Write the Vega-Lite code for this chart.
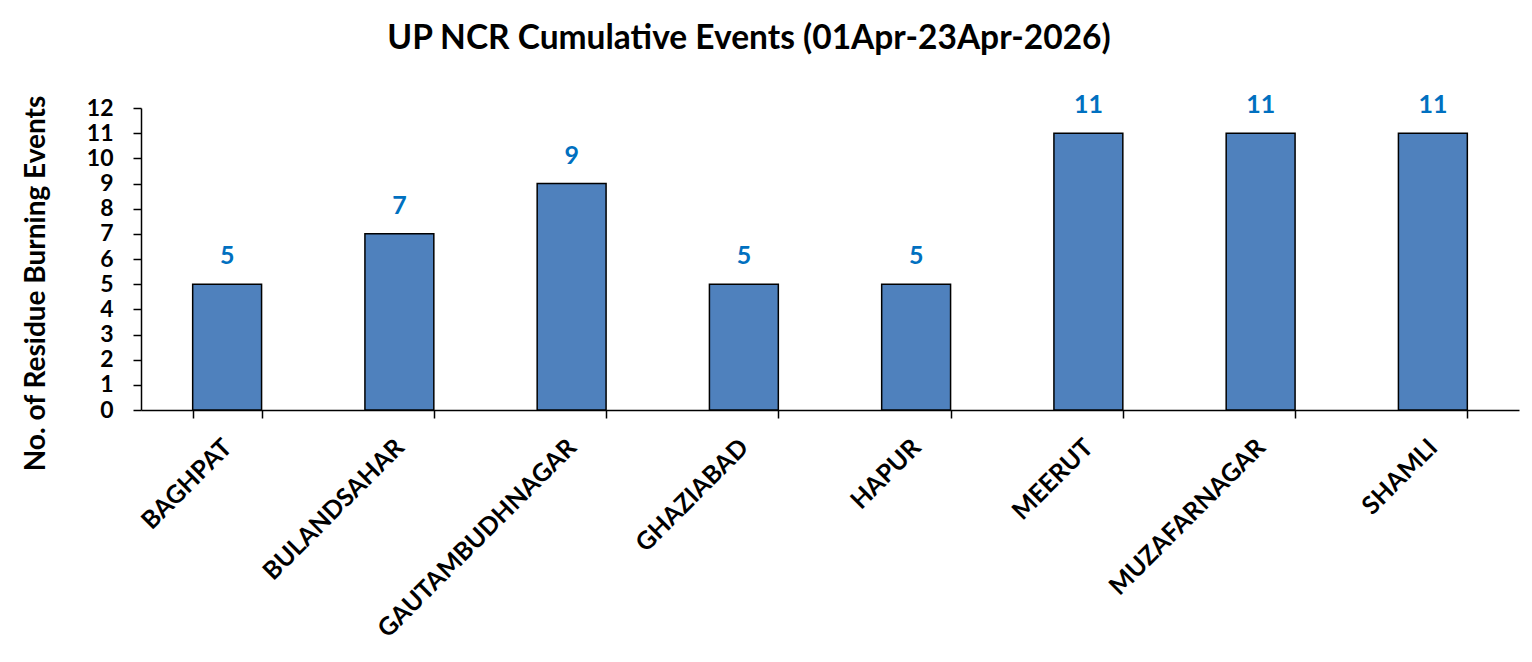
{
  "$schema": "https://vega.github.io/schema/vega-lite/v6.json",
  "width": 1378,
  "height": 302,
  "autosize": {"type": "none"},
  "padding": {"left": 141, "top": 108, "right": 13, "bottom": 252},
  "background": "white",
  "title": {
    "text": "UP NCR Cumulative Events (01Apr-23Apr-2026)",
    "font": "Lato",
    "fontSize": 33.5,
    "fontWeight": "bold",
    "color": "black",
    "anchor": "middle",
    "frame": "group",
    "dx": -81,
    "offset": 37
  },
  "config": {
    "view": {"stroke": null},
    "font": "Lato"
  },
  "data": {
    "values": [
      {"district": "BAGHPAT", "events": 5},
      {"district": "BULANDSAHAR", "events": 7},
      {"district": "GAUTAMBUDHNAGAR", "events": 9},
      {"district": "GHAZIABAD", "events": 5},
      {"district": "HAPUR", "events": 5},
      {"district": "MEERUT", "events": 11},
      {"district": "MUZAFARNAGAR", "events": 11},
      {"district": "SHAMLI", "events": 11}
    ]
  },
  "encoding": {
    "x": {
      "field": "district",
      "type": "nominal",
      "sort": null,
      "scale": {"paddingInner": 0.6, "paddingOuter": 0.3},
      "axis": {
        "title": null,
        "labelAngle": -45,
        "labelAlign": "right",
        "labelBaseline": "middle",
        "labelFont": "Lato",
        "labelFontSize": 25,
        "labelFontWeight": "bold",
        "labelColor": "black",
        "labelPadding": 25,
        "labelLimit": 400,
        "labelOverlap": false,
        "tickBand": "extent",
        "tickSize": 8,
        "tickColor": "black",
        "tickWidth": 1.5,
        "domainColor": "black",
        "domainWidth": 1.5
      }
    },
    "y": {
      "field": "events",
      "type": "quantitative",
      "scale": {"domain": [0, 12], "nice": false},
      "axis": {
        "title": "No. of Residue Burning Events",
        "titleFont": "Lato",
        "titleFontSize": 28,
        "titleFontWeight": "bold",
        "titleColor": "black",
        "titleX": -105,
        "titleY": 175,
        "titleAlign": "center",
        "titleBaseline": "middle",
        "titleAngle": -90,
        "values": [0,1,2,3,4,5,6,7,8,9,10,11,12],
        "format": "d",
        "grid": false,
        "labelFont": "Lato",
        "labelFontSize": 23,
        "labelFontWeight": "bold",
        "labelColor": "black",
        "labelPadding": 20,
        "labelOverlap": false,
        "tickSize": 8,
        "tickColor": "black",
        "tickWidth": 1.5,
        "domainColor": "black",
        "domainWidth": 1.5
      }
    }
  },
  "layer": [
    {
      "mark": {"type": "bar", "color": "#4F81BD", "stroke": "black", "strokeWidth": 1.5}
    },
    {
      "mark": {"type": "text", "color": "#0070C0", "fontSize": 25, "fontWeight": "bold", "font": "Lato", "baseline": "alphabetic", "dy": -20},
      "encoding": {"text": {"field": "events", "type": "quantitative"}}
    }
  ]
}
